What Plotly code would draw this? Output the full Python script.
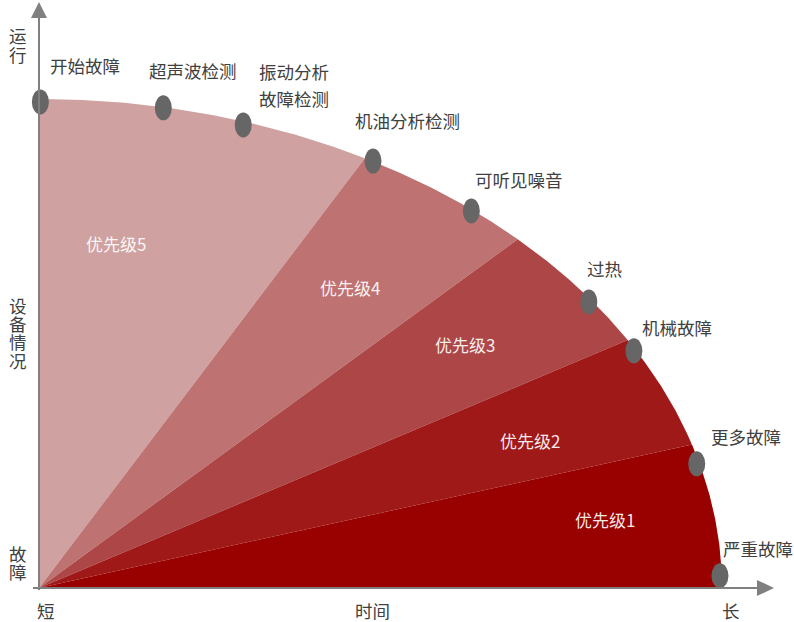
import numpy as np
import plotly.graph_objects as go

# ---------------- data ----------------
priority_labels = ["优先级5", "优先级4", "优先级3", "优先级2", "优先级1"]
# sector boundaries along the time axis (fraction of full time span)
boundary_time = [0.0, 0.477, 0.701, 0.862, 0.956, 1.0]
priority_colors = ["#cfa1a1", "#bf7272", "#ad4646", "#9f1919", "#990000"]

events = ["开始故障", "超声波检测", "振动分析<br>故障检测", "机油分析检测",
          "可听见噪音", "过热", "机械故障", "更多故障", "严重故障"]
event_time = [0.002, 0.182, 0.299, 0.489, 0.633, 0.805, 0.871, 0.963, 0.997]
event_condition = [0.994, 0.982, 0.947, 0.873, 0.771, 0.585, 0.485, 0.254, 0.025]

x_tick_labels = ["短", "时间", "长"]
y_tick_labels = ["运行", "设备情况", "故障"]

# ---------------- layout helpers ----------------
W, H = 794, 622
OX, OY = 39, 588   # pixel of origin
A, B = 683, 489    # pixel length of unit time / unit condition


def px2x(px):
    return (px - OX) / A


def py2y(py):
    return (OY - py) / B


FONT = "Noto Sans CJK SC, Noto Sans, sans-serif"
TXT = "#404040"
AX = "#808080"

fig = go.Figure()

# sectors
for i, lab in enumerate(priority_labels):
    t0, t1 = boundary_time[i], boundary_time[i + 1]
    phi = np.linspace(np.arccos(t0), np.arccos(t1), 80)
    xs = np.concatenate([[0], np.cos(phi), [0]])
    ys = np.concatenate([[0], np.sin(phi), [0]])
    fig.add_trace(go.Scatter(x=xs, y=ys, fill="toself", mode="lines",
                             line=dict(width=0), fillcolor=priority_colors[i],
                             hoverinfo="skip", name=lab))

# priority label positions (layout)
priority_pos = [(116, 243), (350, 287), (465, 344), (530, 440), (605, 519)]
annotations = []
for lab, (px, py) in zip(priority_labels, priority_pos):
    annotations.append(dict(x=px2x(px), y=py2y(py), text=lab, showarrow=False,
                            xanchor="center", yanchor="middle",
                            font=dict(family=FONT, size=17, color="rgba(255,255,255,0.92)")))

# event markers (ellipses) and labels
label_offsets = [(8, -36), (-16, -37), (14, -53), (-20, -41), (2, -31),
                 (-4, -33), (6, -23), (12, -27), (1, -27)]
shapes = []
for t, c in zip(event_time, event_condition):
    shapes.append(dict(type="circle", xref="x", yref="y",
                       xsizemode="pixel", ysizemode="pixel",
                       xanchor=t, yanchor=c, x0=-8.5, x1=8.5, y0=-12.5, y1=12.5,
                       fillcolor="#666666", line=dict(width=0)))
for ev, t, c, (dx, dy) in zip(events, event_time, event_condition, label_offsets):
    for k, line in enumerate(ev.split("<br>")):
        annotations.append(dict(x=t, y=c, text=line, showarrow=False,
                                xanchor="left", yanchor="middle",
                                xshift=dx, yshift=-(dy + 27 * k),
                                font=dict(family=FONT, size=17.5, color=TXT)))

# axes lines + arrowheads
shapes.append(dict(type="line", xref="x", yref="y", x0=px2x(33), x1=px2x(758),
                   y0=py2y(OY), y1=py2y(OY), line=dict(color=AX, width=2)))
shapes.append(dict(type="line", xref="x", yref="y", x0=px2x(OX), x1=px2x(OX),
                   y0=py2y(590), y1=py2y(17), line=dict(color=AX, width=2)))
shapes.append(dict(type="path", xref="x", yref="y",
                   path=f"M {px2x(774)} {py2y(OY)} L {px2x(757)} {py2y(OY-8)} L {px2x(757)} {py2y(OY+8)} Z",
                   fillcolor=AX, line=dict(width=0)))
shapes.append(dict(type="path", xref="x", yref="y",
                   path=f"M {px2x(OX)} {py2y(2)} L {px2x(OX-8)} {py2y(18)} L {px2x(OX+8)} {py2y(18)} Z",
                   fillcolor=AX, line=dict(width=0)))

# axis text
x_label_pos = [46, 372, 731]
for lab, px in zip(x_tick_labels, x_label_pos):
    annotations.append(dict(x=px / W, y=1 - 610 / H, xref="paper", yref="paper",
                            text=lab, showarrow=False, xanchor="center", yanchor="middle",
                            font=dict(family=FONT, size=17.5, color=TXT)))
y_label_start = [36, 305, 553]
for lab, py0 in zip(y_tick_labels, y_label_start):
    for k, ch in enumerate(lab):
        annotations.append(dict(x=18 / W, y=1 - (py0 + 18.5 * k) / H, xref="paper", yref="paper",
                                text=ch, showarrow=False, xanchor="center", yanchor="middle",
                                font=dict(family=FONT, size=17.5, color=TXT)))

fig.update_layout(
    width=W, height=H, margin=dict(l=0, r=0, t=0, b=0),
    paper_bgcolor="white", plot_bgcolor="white", showlegend=False,
    xaxis=dict(range=[px2x(0), px2x(W)], visible=False, fixedrange=True),
    yaxis=dict(range=[py2y(H), py2y(0)], visible=False, fixedrange=True),
    shapes=shapes, annotations=annotations,
)

fig.write_html("out.html")
